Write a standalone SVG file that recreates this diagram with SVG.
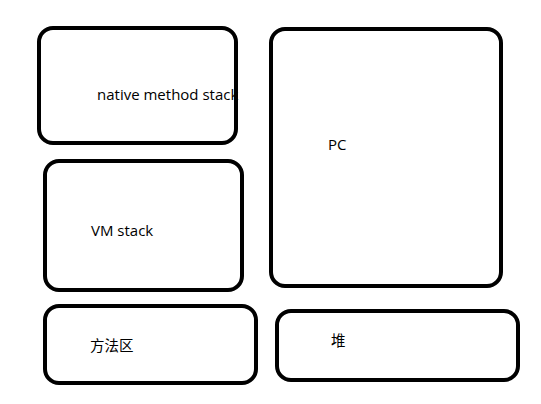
<svg xmlns="http://www.w3.org/2000/svg" width="541" height="404" viewBox="0 0 541 404">
<style>
.box{fill:none;stroke:#000;stroke-width:4}
.lbl{font-family:"Open Sans","Noto Sans","Noto Sans CJK SC",sans-serif;font-size:15px;fill:#000}
.cjk{font-family:"Noto Sans CJK SC",sans-serif;font-size:14.5px;fill:#000}
</style>
<rect width="541" height="404" fill="#fff"/>
<g id="native-method-stack">
<text class="lbl" x="97" y="100">native method stack</text>
<rect class="box" x="39" y="28" width="197" height="115" rx="14"/>
</g>
<g id="pc">
<text class="lbl" x="328" y="150">PC</text>
<rect class="box" x="271" y="29" width="230" height="257" rx="14"/>
</g>
<g id="vm-stack">
<text class="lbl" x="91" y="236">VM stack</text>
<rect class="box" x="45" y="161" width="197" height="129" rx="14"/>
</g>
<g id="method-area">
<text class="cjk" x="90" y="351">方法区</text>
<rect class="box" x="45" y="306" width="211" height="77" rx="14"/>
</g>
<g id="heap">
<text class="cjk" x="331" y="346">堆</text>
<rect class="box" x="277" y="311" width="241" height="69" rx="14"/>
</g>
<g id="connectors"></g>
</svg>
